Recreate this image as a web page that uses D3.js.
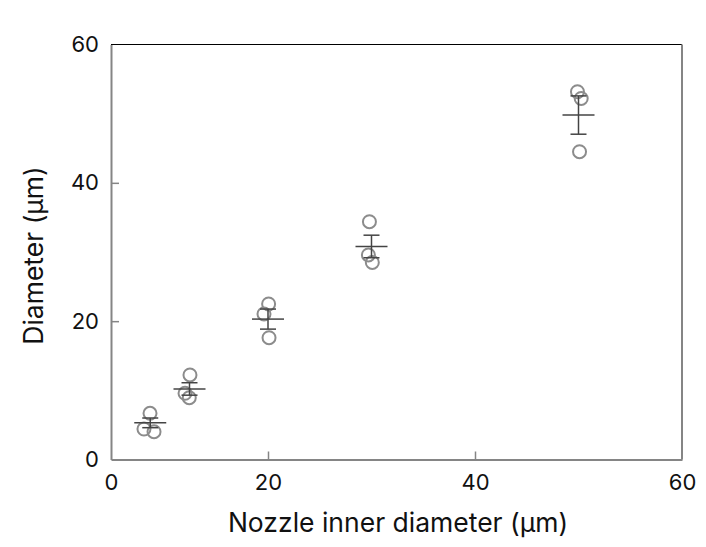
<!DOCTYPE html>
<html>
<head>
<meta charset="utf-8">
<script src="https://cdn.jsdelivr.net/npm/d3@7"></script>
<style>
  body { margin: 0; background: #fff; }
  text { font-family: Inter, "Noto Sans", sans-serif; fill: #111; }
</style>
</head>
<body>
<div id="plot"></div>
<script>
// nozzle inner diameter (µm) and measured diameter (µm)
var nozzle = [5, 10, 20, 30, 50]
var means = [5.3, 10.2, 20.3, 30.8, 49.8]
var sems = [0.7, 0.9, 1.45, 1.63, 2.77]
var repX = [[4.97, 4.2, 5.48], [10.06, 9.43, 9.97], [20.06, 19.49, 20.1], [29.8, 29.7, 30.08], [49.9, 50.26, 50.1]]
var repY = [[6.68, 4.41, 4.02], [12.22, 9.57, 8.93], [22.48, 21.04, 17.61], [34.38, 29.57, 28.5], [53.17, 52.2, 44.5]]
var xTicks = [0, 20, 40, 60]
var yTicks = [0, 20, 40, 60]

var margin = { top: 44.5, right: 24, bottom: 87.5, left: 111 }
  , width = 706 - margin.left - margin.right
  , height = 547 - margin.top - margin.bottom

var svg = d3.select("#plot")
  .append("svg")
  .attr("width", 706)
  .attr("height", 547)
  .append("g")
  .attr("transform", "translate(" + margin.left + "," + margin.top + ")")

// x axis is segmented: 0-20 is compressed relative to 20-60
var xScale = d3.scaleLinear()
  .domain([0, 20, 60])
  .range([0, 157, width])

var yScale = d3.scaleLinear()
  .domain([0, 60])
  .range([height, 0])

var gray = "#858585"

// frame: top and right
svg.append("line")
  .attr("x1", 0).attr("x2", width).attr("y1", 0).attr("y2", 0)
  .attr("stroke", "#000").attr("stroke-width", 1)
svg.append("line")
  .attr("x1", width).attr("x2", width).attr("y1", 0).attr("y2", height)
  .attr("stroke", gray).attr("stroke-width", 2)

var xAxis = svg.append("g")
  .attr("class", "x axis")
  .attr("transform", "translate(0, " + height + ")")
  .call(d3.axisBottom(xScale).tickValues(xTicks).tickSizeInner(-8).tickSizeOuter(0).tickPadding(15))

var yAxis = svg.append("g")
  .attr("class", "y axis")
  .call(d3.axisLeft(yScale).tickValues(yTicks).tickSizeInner(-8).tickSizeOuter(0).tickPadding(12))

;[xAxis, yAxis].forEach(function (g) {
  g.select(".domain").attr("stroke", gray).attr("stroke-width", 2)
  g.selectAll(".tick line").attr("stroke", gray).attr("stroke-width", 1.5)
  g.selectAll(".tick text").attr("font-size", 22).attr("fill", "#111")
    .style("font-family", "Inter, 'Noto Sans', sans-serif")
})
yAxis.selectAll(".tick line").filter(d => d === 0 || d === 60).remove()
xAxis.selectAll(".tick line").filter(d => d === 0 || d === 60).remove()

// replicate points
var points = []
nozzle.forEach((n, i) => repX[i].forEach((x, j) => points.push({ x: x, y: repY[i][j] })))

svg.selectAll(".dot")
  .data(points)
  .enter()
  .append("circle")
  .attr("class", "dot")
  .attr("cx", d => xScale(d.x))
  .attr("cy", d => yScale(d.y))
  .attr("r", 6.5)
  .attr("fill", "none")
  .attr("stroke", "#8c8c8c")
  .attr("stroke-width", 2)

// mean +- sem
var bars = svg.selectAll(".err")
  .data(nozzle)
  .enter()
  .append("g")
  .attr("class", "err")
  .attr("stroke", "#444")
  .attr("stroke-width", 1.5)

bars.append("line")
  .attr("x1", d => xScale(d) - 16).attr("x2", d => xScale(d) + 16)
  .attr("y1", (d, i) => yScale(means[i])).attr("y2", (d, i) => yScale(means[i]))
bars.append("line")
  .attr("x1", d => xScale(d)).attr("x2", d => xScale(d))
  .attr("y1", (d, i) => yScale(means[i] + sems[i])).attr("y2", (d, i) => yScale(means[i] - sems[i]))
bars.append("line")
  .attr("x1", d => xScale(d) - 8).attr("x2", d => xScale(d) + 8)
  .attr("y1", (d, i) => yScale(means[i] + sems[i])).attr("y2", (d, i) => yScale(means[i] + sems[i]))
bars.append("line")
  .attr("x1", d => xScale(d) - 8).attr("x2", d => xScale(d) + 8)
  .attr("y1", (d, i) => yScale(means[i] - sems[i])).attr("y2", (d, i) => yScale(means[i] - sems[i]))

// axis titles
svg.append("text")
  .attr("x", (228 + 568) / 2 - margin.left)
  .attr("y", height + 72)
  .attr("text-anchor", "middle")
  .attr("font-size", 26.5)
  .text("Nozzle inner diameter (µm)")

svg.append("text")
  .attr("transform", "translate(-68," + (255.5 - margin.top) + ") rotate(-90)")
  .attr("text-anchor", "middle")
  .attr("font-size", 26.5)
  .text("Diameter (µm)")
</script>
</body>
</html>
